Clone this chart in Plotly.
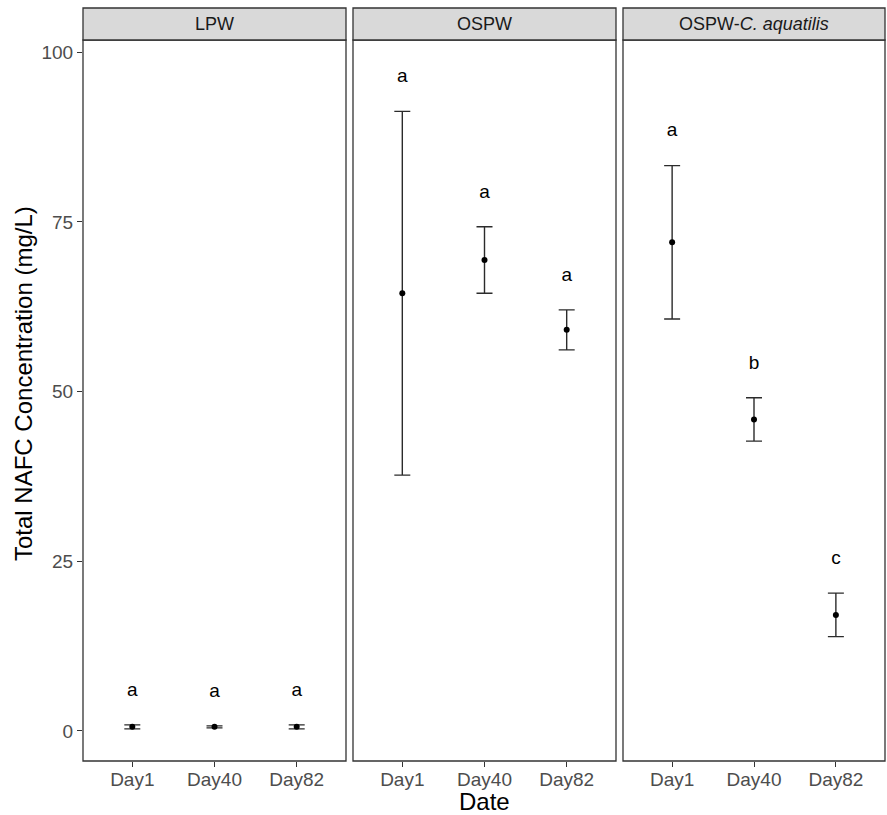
import plotly.graph_objects as go

# ---- data ----
panels = ["LPW", "OSPW", "OSPW-<i>C. aquatilis</i>"]
days = ["Day1", "Day40", "Day82"]
lpw_mean = [0.6, 0.6, 0.6]
lpw_sd = [0.3, 0.15, 0.3]
ospw_mean = [64.5, 69.4, 59.1]
ospw_sd = [26.8, 4.9, 2.95]
ospwc_mean = [72.0, 45.9, 17.1]
ospwc_sd = [11.3, 3.2, 3.2]
lpw_letters = ["a", "a", "a"]
ospw_letters = ["a", "a", "a"]
ospwc_letters = ["a", "b", "c"]
y_ticks = [0, 25, 50, 75, 100]

series = [
    (lpw_mean, lpw_sd, lpw_letters),
    (ospw_mean, ospw_sd, ospw_letters),
    (ospwc_mean, ospwc_sd, ospwc_letters),
]

W, H = 887, 815
ml, mr, mt, mb = 83, 2, 40, 54
pw = W - ml - mr
ph = H - mt - mb

FONT = "Liberation Sans, Arial, sans-serif"
DARK = "#333333"

fig = go.Figure()

doms = [(83, 346), (353, 616), (623, 885)]
doms = [((a - ml) / pw, (b - ml) / pw) for a, b in doms]

for i, (m, sd, lab) in enumerate(series):
    xa = "x" if i == 0 else f"x{i+1}"
    fig.add_trace(go.Scatter(
        x=days, y=m, xaxis=xa, yaxis="y", mode="markers",
        marker=dict(color="black", size=6),
        error_y=dict(type="data", array=sd, visible=True, color="#2b2b2b",
                     thickness=1.4, width=8),
        showlegend=False, hoverinfo="skip"))
    fig.add_trace(go.Scatter(
        x=days, y=[a + b + 5 for a, b in zip(m, sd)], xaxis=xa, yaxis="y",
        mode="text", text=lab, textposition="middle center",
        textfont=dict(family=FONT, size=19, color="black"),
        showlegend=False, hoverinfo="skip"))

layout = dict(
    width=W, height=H,
    margin=dict(l=ml, r=mr, t=mt, b=mb),
    paper_bgcolor="white", plot_bgcolor="white",
    font=dict(family=FONT),
    yaxis=dict(range=[-4.43, 101.81], tickvals=y_ticks, ticks="outside",
               ticklen=5, tickcolor=DARK, tickwidth=1,
               tickfont=dict(size=19, color="#4d4d4d"),
               showgrid=False, zeroline=False, showline=False,
               anchor="x"),
)
for i in range(3):
    key = "xaxis" if i == 0 else f"xaxis{i+1}"
    layout[key] = dict(domain=list(doms[i]), anchor="y",
                       type="category", categoryorder="array",
                       categoryarray=days, range=[-0.6, 2.6],
                       ticks="outside", ticklen=5, tickcolor=DARK,
                       ticklabelstandoff=-4,
                       tickfont=dict(size=19, color="#4d4d4d"),
                       showgrid=False, zeroline=False, showline=False)
fig.update_layout(**layout)

shapes = []
annotations = []
strip_h = 32 / ph
for i in range(3):
    xr = "x domain" if i == 0 else f"x{i+1} domain"
    shapes.append(dict(type="rect", xref=xr, yref="y domain", x0=0, x1=1,
                       y0=0, y1=1, line=dict(color=DARK, width=1.3),
                       fillcolor="rgba(0,0,0,0)", layer="above"))
    shapes.append(dict(type="rect", xref=xr, yref="paper", x0=0, x1=1,
                       y0=1, y1=1 + strip_h, line=dict(color=DARK, width=1.3),
                       fillcolor="#d9d9d9", layer="above"))
    annotations.append(dict(text=panels[i], xref=xr, yref="paper",
                            x=0.5, y=1 + strip_h / 2, showarrow=False,
                            xanchor="center", yanchor="middle",
                            font=dict(family=FONT, size=18, color="#1a1a1a")))

annotations.append(dict(text="Total NAFC Concentration (mg/L)", xref="paper",
                        yref="paper", x=(23 - ml) / pw, y=(H - mb - 384) / ph,
                        textangle=-90, showarrow=False, xanchor="center",
                        yanchor="middle",
                        font=dict(family=FONT, size=24, color="black")))
annotations.append(dict(text="Date", xref="paper", yref="paper",
                        x=(484 - ml) / pw, y=(H - mb - 801) / ph,
                        showarrow=False, xanchor="center", yanchor="middle",
                        font=dict(family=FONT, size=24, color="black")))
fig.update_layout(shapes=shapes, annotations=annotations)

fig.write_html("out.html")
